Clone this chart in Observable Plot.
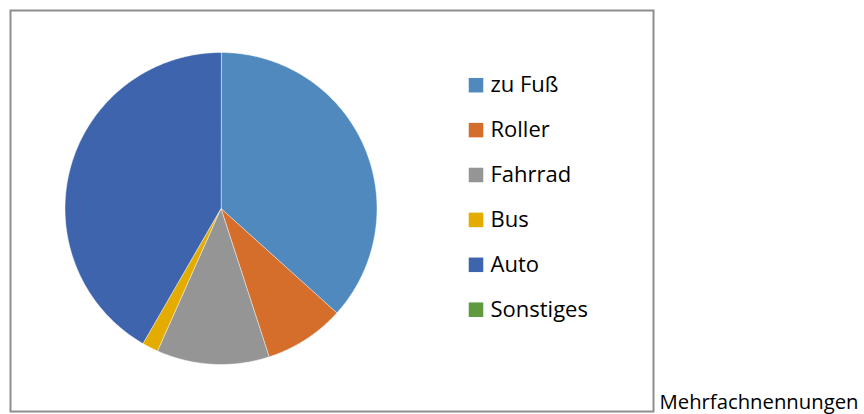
<!DOCTYPE html>
<html>
<head>
<meta charset="utf-8">
<script src="https://cdn.jsdelivr.net/npm/d3@7"></script>
<script src="https://cdn.jsdelivr.net/npm/@observablehq/plot@0.6"></script>
<style>
  html, body { margin: 0; padding: 0; background: #fff; }
  svg { display: block; }
</style>
</head>
<body>
<div id="chart"></div>
<script>
const categories = ["zu Fuß", "Roller", "Fahrrad", "Bus", "Auto", "Sonstiges"];
const values = [22, 5, 7, 1, 25, 0];
const colors = ["#4F89BD", "#D56D2B", "#959595", "#E5AC00", "#3E64AD", "#5F9A3E"];
const note = "Mehrfachnennungen";

// layout (pixels)
const W = 864, H = 414;
const cx = 220.5, cy = 208, R = 156;
const legendX = 475.5, legendY0 = 84.7, legendStep = 44.9;

const total = d3.sum(values);
const pts = [];
let acc = 0;
categories.forEach((c, i) => {
  const v = values[i];
  if (v <= 0) return;
  const a0 = acc / total * 2 * Math.PI;
  acc += v;
  const a1 = acc / total * 2 * Math.PI;
  pts.push({cat: c, x: cx, y: cy});
  const n = Math.max(2, Math.ceil((a1 - a0) / (Math.PI / 360)));
  for (let k = 0; k <= n; k++) {
    const a = a0 + (a1 - a0) * k / n;
    pts.push({cat: c, x: cx + R * Math.sin(a), y: cy - R * Math.cos(a)});
  }
});

const legend = categories.map((c, i) => ({cat: c, y: legendY0 + i * legendStep}));

const chart = Plot.plot({
  width: W,
  height: H,
  marginLeft: 10,
  marginTop: 10,
  marginRight: 211,
  marginBottom: 3,
  x: {domain: [10, W - 211], axis: null},
  y: {domain: [10, H - 3], range: [10, H - 3], axis: null},
  color: {domain: categories, range: colors},
  style: {fontFamily: "'Open Sans', sans-serif", background: "#fff", overflow: "visible"},
  marks: [
    Plot.frame({stroke: "#8E8E8E", strokeWidth: 2}),
    Plot.line(pts, {x: "x", y: "y", z: "cat", fill: "cat", stroke: "#ffffff", strokeWidth: 0.6, strokeOpacity: 0.8, curve: "linear-closed"}),
    Plot.dot(legend, {x: () => legendX, y: "y", fill: "cat", symbol: "square", r: 8.2, stroke: null}),
    Plot.text(legend, {x: () => legendX + 14.5, y: "y", text: "cat", fill: "#000", fontSize: 22, textAnchor: "start", lineAnchor: "middle"}),
    Plot.text([note], {x: () => 659, y: () => 402, text: d => d, fill: "#000", fontSize: 20.3, textAnchor: "start", lineAnchor: "middle"})
  ]
});
document.getElementById("chart").appendChild(chart);
</script>
</body>
</html>
